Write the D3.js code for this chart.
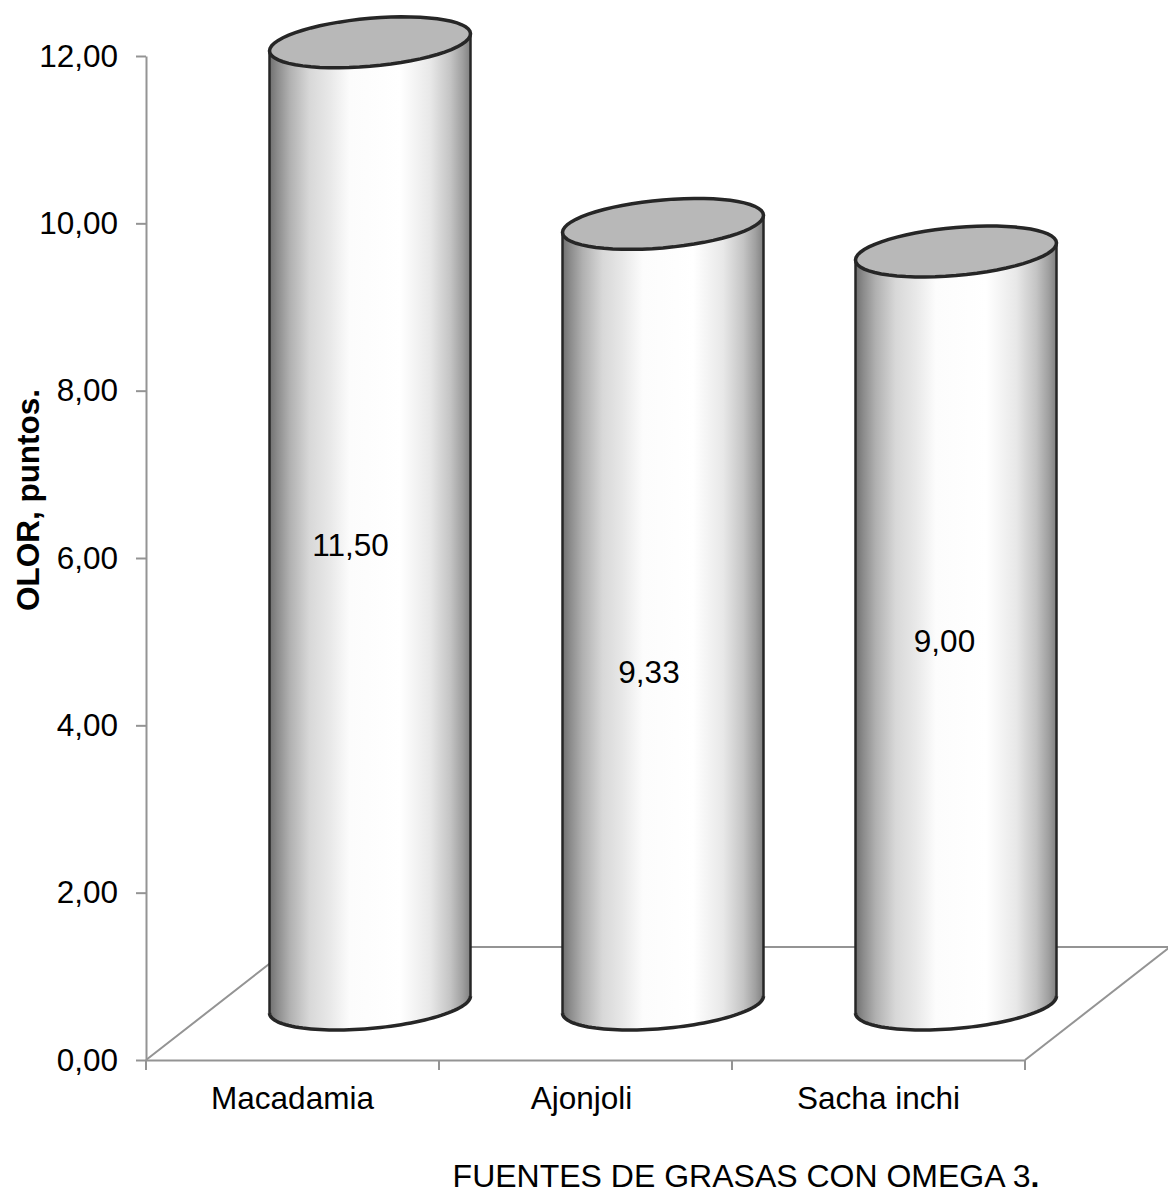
<!DOCTYPE html>
<html>
<head>
<meta charset="utf-8">
<script src="https://cdn.jsdelivr.net/npm/d3@7"></script>
<style>
    html, body { margin: 0; background: #fff; }
    svg { display: block; font-family: "Liberation Sans", Arial, sans-serif; fill: #000; }
</style>
</head>
<body>
<div id="chart"></div>
<script>
const categories = ['Macadamia', 'Ajonjoli', 'Sacha inchi'];
const values = [11.5, 9.33, 9.0];
const valueLabels = ['11,50', '9,33', '9,00'];
const yTicks = [0, 2, 4, 6, 8, 10, 12];

const WIDTH = 1168;
const HEIGHT = 1194;
const AXIS_GREY = '#949494';
const EDGE = '#262626';
const FONT_SIZE = '31.5px';

// the value labels were placed by hand in the original, not centred on the bars
const LABEL_SPOTS = [
    { dx: -19.5, level: 6.155 },
    { dx: -14, level: 4.637 },
    { dx: -11.5, level: 5.008 },
];

const fmtTick = (d) => d.toFixed(2).replace('.', ',');

const y = d3.scaleLinear().domain([0, 12]).range([1060, 56]);
const x = d3.scaleBand().domain(categories).range([146, 1025]);

const svg = d3.select('#chart').append('svg')
    .attr('width', WIDTH)
    .attr('height', HEIGHT);

// horizontal shading across the cylinder
const gradient = svg.append('defs').append('linearGradient')
    .attr('id', 'cyl')
    .attr('x1', 0).attr('x2', 1).attr('y1', 0).attr('y2', 0);
[[0, '#707070'], [0.04, '#8c8c8c'], [0.1, '#b0b0b0'], [0.2, '#d8d8d8'], [0.3, '#e8e8e8'], [0.4, '#fcfcfc'],
    [0.65, '#ffffff'], [0.8, '#e8e8e8'], [0.9, '#c4c4c4'], [0.96, '#a0a0a0'], [1, '#808080']].forEach(([o, c]) => {
    gradient.append('stop').attr('offset', o).attr('stop-color', c);
});

// floor in perspective
const DEPTH_X = 145;
const DEPTH_Y = 113;
svg.append('path')
    .attr('d', `M${x.range()[0]},${y(0)}L${x.range()[0] + DEPTH_X},${y(0) - DEPTH_Y}L${WIDTH},${y(0) - DEPTH_Y}`)
    .attr('fill', 'none').attr('stroke', AXIS_GREY).attr('stroke-width', 2);
svg.append('line')
    .attr('x1', x.range()[1]).attr('y1', y(0))
    .attr('x2', x.range()[1] + DEPTH_X).attr('y2', y(0) - DEPTH_Y)
    .attr('stroke', AXIS_GREY).attr('stroke-width', 2);

// axes
const yAxis = svg.append('g').attr('transform', `translate(${x.range()[0]},0)`)
    .call(d3.axisLeft(y).tickValues(yTicks).tickFormat(fmtTick).tickSize(10).tickSizeOuter(0));
const xAxis = svg.append('g').attr('transform', `translate(0,${y(0)})`)
    .call(d3.axisBottom(x).tickSize(0).tickPadding(27));

yAxis.selectAll('text').attr('x', -28).style('font-size', FONT_SIZE).style('font-family', 'inherit').attr('fill', '#000');
xAxis.selectAll('text').style('font-size', FONT_SIZE).style('font-family', 'inherit').attr('fill', '#000');
xAxis.selectAll('text').filter((d) => d === 'Ajonjoli').attr('x', -4);
[yAxis, xAxis].forEach((g) => {
    g.selectAll('.domain, line').attr('stroke', AXIS_GREY).attr('stroke-width', 2);
});

const tickXs = categories.map((c) => x(c)).concat(x.range()[1]);
xAxis.selectAll('line.boundary')
    .data(tickXs)
    .join('line')
    .attr('class', 'boundary')
    .attr('x1', (d) => d).attr('x2', (d) => d)
    .attr('y1', 0).attr('y2', 10)
    .attr('stroke', AXIS_GREY).attr('stroke-width', 2);

// cylinders
const CX_OFFSET = 77.5;
const RX = 100.5;
const RY = 24;
const SHEAR = -0.085;
const BASE_LIFT = 55.5;

const ellipsePoint = (cx, cy, t) => {
    const dx = RX * Math.cos(t);
    return [cx + dx, cy + dx * SHEAR + RY * Math.sin(t)];
};
const arcPoints = (cx, cy, from, to) => d3.range(0, 61).map((i) => ellipsePoint(cx, cy, from + (to - from) * i / 60));
const line = d3.line();

const bars = svg.selectAll('g.bar')
    .data(categories.map((c, i) => ({ c, v: values[i], label: valueLabels[i], spot: LABEL_SPOTS[i] })))
    .join('g')
    .attr('class', 'bar');

bars.each(function (d) {
    const g = d3.select(this);
    const cx = x(d.c) + x.bandwidth() / 2 + CX_OFFSET;
    const base = y(0) - BASE_LIFT;
    const top = y(d.v) - BASE_LIFT;

    // walk the front of the base left to right, then back over the top
    const bottomArc = arcPoints(cx, base, Math.PI, 0);
    g.append('path')
        .attr('d', line(bottomArc.concat(arcPoints(cx, top, 0, -Math.PI))) + 'Z')
        .attr('fill', 'url(#cyl)');
    g.append('path')
        .attr('d', line(bottomArc))
        .attr('fill', 'none').attr('stroke', EDGE).attr('stroke-width', 3.5);
    [-RX, RX].forEach((dx) => {
        g.append('line')
            .attr('x1', cx + dx).attr('x2', cx + dx)
            .attr('y1', top + dx * SHEAR).attr('y2', base + dx * SHEAR)
            .attr('stroke', EDGE).attr('stroke-width', 2.5);
    });
    g.append('path')
        .attr('d', line(arcPoints(cx, top, 0, 2 * Math.PI)) + 'Z')
        .attr('fill', '#b8b8b8').attr('stroke', EDGE).attr('stroke-width', 3.5);
    g.append('text')
        .attr('x', cx + d.spot.dx)
        .attr('y', y(d.spot.level) + 11)
        .attr('text-anchor', 'middle')
        .style('font-size', FONT_SIZE)
        .text(d.label);
});

// axis titles
svg.append('text')
    .attr('transform', 'translate(39,500) rotate(-90)')
    .attr('text-anchor', 'middle')
    .style('font-size', '31.5px')
    .style('font-weight', 'bold')
    .text('OLOR, puntos.');

const xTitle = svg.append('text')
    .attr('x', 746)
    .attr('y', 1187)
    .attr('text-anchor', 'middle')
    .style('font-size', '32px');
xTitle.append('tspan').text('FUENTES DE GRASAS CON OMEGA 3');
xTitle.append('tspan').style('font-weight', 'bold').text('.');
</script>
</body>
</html>
